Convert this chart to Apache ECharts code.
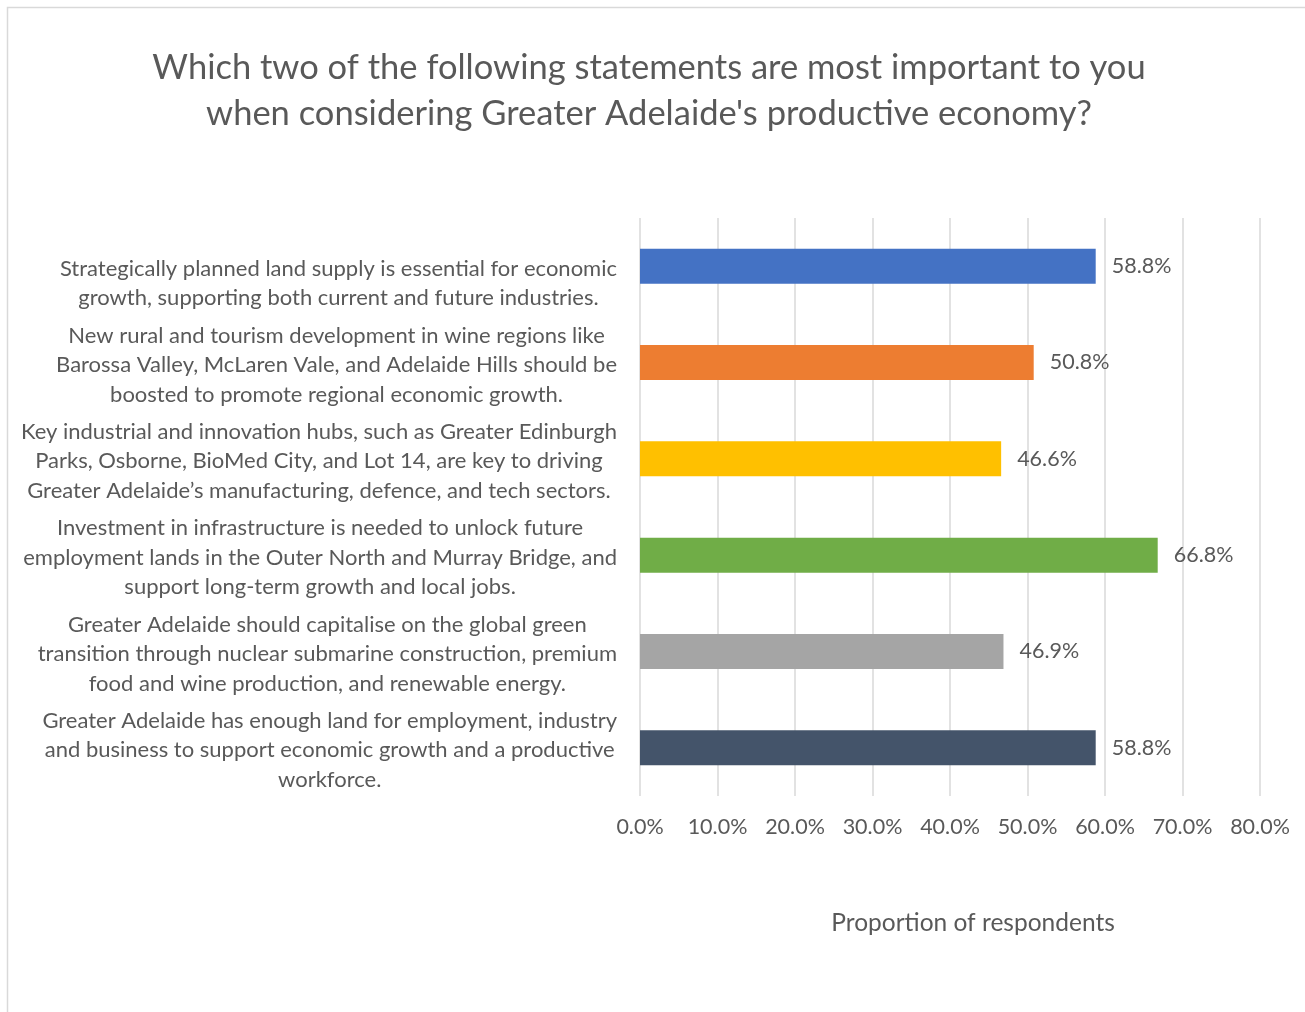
<!DOCTYPE html>
<html><head><meta charset="utf-8">
<script src="https://cdn.jsdelivr.net/npm/echarts@6/dist/echarts.min.js"></script>
<style>html,body{margin:0;padding:0;background:#fff}#c{width:1305px;height:1012px}</style>
</head><body><div id="c"></div>
<script>
const titleText = "Which two of the following statements are most important to you\nwhen considering Greater Adelaide's productive economy?";
const categories = [
  " \nStrategically planned land supply is essential for economic\ngrowth, supporting both current and future industries.",
  "New rural and tourism development in wine regions like\nBarossa Valley, McLaren Vale, and Adelaide Hills should be\nboosted to promote regional economic growth.",
  "Key industrial and innovation hubs, such as Greater Edinburgh\nParks, Osborne, BioMed City, and Lot 14, are key to driving\nGreater Adelaide\u2019s manufacturing, defence, and tech sectors.",
  "Investment in infrastructure is needed to unlock future\nemployment lands in the Outer North and Murray Bridge, and\nsupport long-term growth and local jobs.",
  "Greater Adelaide should capitalise on the global green\ntransition through nuclear submarine construction, premium\nfood and wine production, and renewable energy.",
  "Greater Adelaide has enough land for employment, industry\nand business to support economic growth and a productive\nworkforce."
];
const values = [58.8, 50.8, 46.6, 66.8, 46.9, 58.8];
const barColors = ['#4472C4', '#ED7D31', '#FFC000', '#70AD47', '#A5A5A5', '#44546A'];
const axisName = 'Proportion of respondents';
const xMin = 0, xMax = 80, xStep = 10;

const FONT = 'Lato';
const TXT = '#595959';
const chart = echarts.init(document.getElementById('c'));
chart.setOption({
  backgroundColor: '#fff',
  animation: false,
  textStyle: { fontFamily: FONT },
  title: {
    text: titleText, left: 644, top: 40, textAlign: 'center',
    textStyle: { fontFamily: FONT, fontSize: 34.5, fontWeight: 'normal', color: TXT, lineHeight: 46 }
  },
  graphic: [{
    type: 'rect', shape: { x: 7.5, y: 7.5, width: 1320, height: 1030 },
    style: { fill: null, stroke: '#D9D9D9', lineWidth: 1.5 }, silent: true
  }],
  grid: { left: 640, right: 45, top: 218, bottom: 216, containLabel: false },
  xAxis: {
    type: 'value', min: xMin, max: xMax, interval: xStep,
    axisLine: { show: false }, axisTick: { show: false },
    splitLine: { lineStyle: { color: '#D9D9D9', width: 1.5 } },
    axisLabel: { formatter: v => v.toFixed(1) + '%', fontFamily: FONT, fontSize: 21.5, color: TXT, margin: 20 },
    name: axisName, nameLocation: 'middle', nameGap: 115,
    nameTextStyle: { fontFamily: FONT, fontSize: 24.5, color: TXT, padding: [0, 0, 0, 46] }
  },
  yAxis: {
    type: 'category', data: categories, inverse: true,
    axisLine: { show: false }, axisTick: { show: false },
    axisLabel: {
      fontFamily: FONT, fontSize: 22, color: TXT, lineHeight: 29.5, align: 'right', margin: 23,
      padding: [5, 0, 0, 0],
      formatter: v => v.split('\n').map(l => '{c|' + l + '}').join('\n'),
      rich: { c: { align: 'center', fontFamily: FONT, fontSize: 22, color: TXT, lineHeight: 29.5 } }
    }
  },
  series: [{
    type: 'bar',
    data: values.map((v, i) => ({ value: v, itemStyle: { color: barColors[i] } })),
    barWidth: 35,
    label: { show: true, position: 'right', distance: 16, formatter: p => p.value.toFixed(1) + '%',
      fontFamily: FONT, fontSize: 21.5, color: TXT }
  }]
});
</script></body></html>
